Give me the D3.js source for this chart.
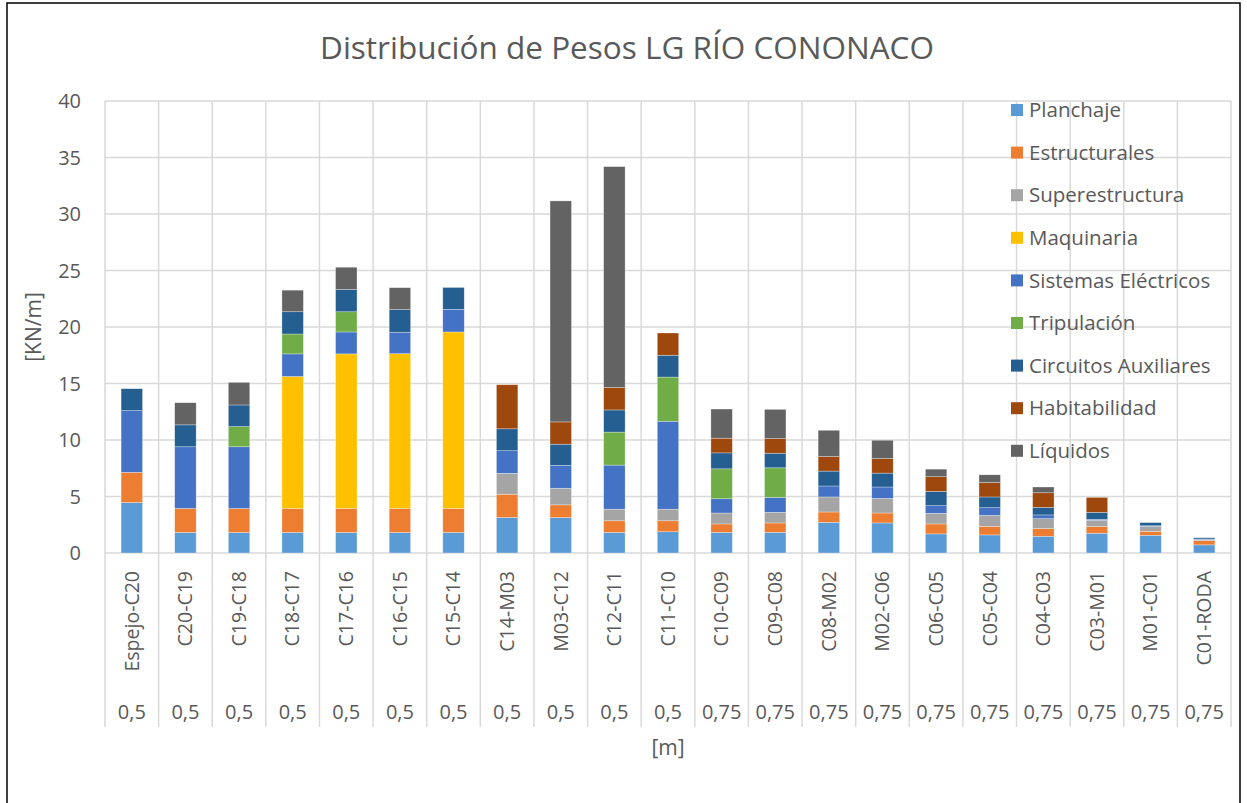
<!DOCTYPE html>
<html lang="es">
<head>
    <meta charset="UTF-8">
    <title>Distribución de Pesos</title>
    <script src="https://cdn.jsdelivr.net/npm/d3@7"></script>
    <style>
        body {
            margin: 0;
            background-color: #fff;
            font-family: 'Open Sans', sans-serif;
        }
        svg text {
            fill: #595959;
        }
    </style>
</head>
<body>
    <svg id="chart"></svg>

    <script>
        const categories = ["Espejo-C20", "C20-C19", "C19-C18", "C18-C17", "C17-C16", "C16-C15", "C15-C14",
            "C14-M03", "M03-C12", "C12-C11", "C11-C10", "C10-C09", "C09-C08", "C08-M02", "M02-C06",
            "C06-C05", "C05-C04", "C04-C03", "C03-M01", "M01-C01", "C01-RODA"];
        const lengths = ["0,5", "0,5", "0,5", "0,5", "0,5", "0,5", "0,5", "0,5", "0,5", "0,5", "0,5",
            "0,75", "0,75", "0,75", "0,75", "0,75", "0,75", "0,75", "0,75", "0,75", "0,75"];

        const planchaje       = [4.47, 1.82, 1.82, 1.82, 1.82, 1.82, 1.82, 3.14, 3.14, 1.82, 1.88, 1.83, 1.83, 2.72, 2.66, 1.69, 1.60, 1.48, 1.75, 1.57, 0.72];
        const estructurales   = [2.67, 2.12, 2.12, 2.12, 2.12, 2.12, 2.12, 2.06, 1.12, 1.03, 0.97, 0.74, 0.83, 0.91, 0.88, 0.88, 0.76, 0.68, 0.59, 0.35, 0.38];
        const superestructura = [0, 0, 0, 0, 0, 0, 0, 1.85, 1.47, 1.03, 1.03, 0.97, 0.94, 1.33, 1.29, 0.94, 0.97, 0.88, 0.55, 0.44, 0.09];
        const maquinaria      = [0, 0, 0, 11.68, 13.68, 13.70, 15.62, 0, 0, 0, 0, 0, 0, 0, 0, 0, 0, 0, 0, 0, 0];
        const sistemas        = [5.46, 5.46, 5.46, 2.00, 1.94, 1.90, 2.00, 2.00, 2.02, 3.90, 7.78, 1.26, 1.32, 0.97, 1.01, 0.68, 0.68, 0.33, 0.09, 0.05, 0.05];
        const tripulacion     = [0, 0, 1.79, 1.76, 1.79, 0, 0, 0, 0, 2.92, 3.91, 2.65, 2.62, 0, 0, 0, 0, 0, 0, 0, 0];
        const circuitos       = [1.94, 1.94, 1.91, 1.97, 1.97, 2.00, 1.94, 1.94, 1.88, 1.96, 1.93, 1.41, 1.29, 1.32, 1.23, 1.26, 0.95, 0.67, 0.62, 0.28, 0.11];
        const habitabilidad   = [0, 0, 0, 0, 0, 0, 0, 3.90, 1.97, 1.99, 1.97, 1.30, 1.29, 1.29, 1.29, 1.30, 1.28, 1.29, 1.32, 0, 0];
        const liquidos        = [0, 1.96, 2.00, 1.91, 1.97, 1.94, 0, 0, 19.56, 19.54, 0, 2.58, 2.59, 2.32, 1.62, 0.67, 0.68, 0.51, 0, 0, 0];

        const seriesNames = ["Planchaje", "Estructurales", "Superestructura", "Maquinaria", "Sistemas Eléctricos",
            "Tripulación", "Circuitos Auxiliares", "Habitabilidad", "Líquidos"];
        const seriesValues = [planchaje, estructurales, superestructura, maquinaria, sistemas,
            tripulacion, circuitos, habitabilidad, liquidos];
        const colors = ["#5B9BD5", "#ED7D31", "#A5A5A5", "#FFC000", "#4472C4", "#70AD47", "#255E91", "#9E480E", "#636363"];
        const yTicks = [0, 5, 10, 15, 20, 25, 30, 35, 40];

        const width = 1247, height = 803;
        const plot = { left: 105, right: 1231, top: 101, bottom: 553 };
        const axisBottom = 727;

        const svg = d3.select("#chart")
            .attr("width", width)
            .attr("height", height);

        // build rows for d3.stack
        const rows = categories.map((c, i) => {
            const r = { cat: c };
            seriesNames.forEach((s, j) => r[s] = seriesValues[j][i]);
            return r;
        });
        const stacked = d3.stack().keys(seriesNames)(rows);

        const x = d3.scaleBand()
            .domain(categories)
            .range([plot.left, plot.right])
            .padding(0);

        const y = d3.scaleLinear()
            .domain([0, 40])
            .range([plot.bottom, plot.top]);

        const color = d3.scaleOrdinal().domain(seriesNames).range(colors);

        // outer border
        svg.append("rect")
            .attr("x", 7).attr("y", 3)
            .attr("width", 1233).attr("height", 820)
            .attr("fill", "none")
            .attr("stroke", "#000")
            .attr("stroke-width", 1.5);

        // horizontal gridlines
        svg.append("g")
            .selectAll("line")
            .data(yTicks)
            .enter().append("line")
            .attr("x1", plot.left).attr("x2", plot.right)
            .attr("y1", d => y(d)).attr("y2", d => y(d))
            .attr("stroke", "#d9d9d9")
            .attr("stroke-width", 1.5);

        // vertical gridlines / category separators (run down through the label area)
        const seps = categories.map(c => x(c)).concat([plot.right]);
        svg.append("g")
            .selectAll("line")
            .data(seps)
            .enter().append("line")
            .attr("x1", d => d).attr("x2", d => d)
            .attr("y1", plot.top).attr("y2", axisBottom)
            .attr("stroke", "#d9d9d9")
            .attr("stroke-width", 1.5);

        // bars
        const barW = x.bandwidth() * 0.4;
        svg.append("g")
            .selectAll("g")
            .data(stacked)
            .enter().append("g")
            .attr("fill", d => color(d.key))
            .selectAll("rect")
            .data(d => d.filter(p => p[1] - p[0] > 0))
            .enter().append("rect")
            .attr("x", d => x(d.data.cat) + (x.bandwidth() - barW) / 2)
            .attr("y", d => y(d[1]))
            .attr("width", barW)
            .attr("height", d => y(d[0]) - y(d[1]))
            .attr("stroke", "#fff")
            .attr("stroke-opacity", 0.5)
            .attr("stroke-width", 0.6);

        // y tick labels
        svg.append("g")
            .selectAll("text")
            .data(yTicks)
            .enter().append("text")
            .attr("x", 81)
            .attr("y", d => y(d))
            .attr("dy", "0.35em")
            .attr("text-anchor", "end")
            .style("font-size", "20px")
            .text(d => d);

        // category labels (rotated)
        svg.append("g")
            .selectAll("text")
            .data(categories)
            .enter().append("text")
            .attr("transform", d => `translate(${x(d) + x.bandwidth() / 2},571) rotate(-90)`)
            .attr("text-anchor", "end")
            .attr("dy", "0.35em")
            .style("font-size", "19.5px")
            .text(d => d);

        // second level: lengths
        svg.append("g")
            .selectAll("text")
            .data(categories)
            .enter().append("text")
            .attr("x", d => x(d) + x.bandwidth() / 2)
            .attr("y", 712)
            .attr("dy", "0.35em")
            .attr("text-anchor", "middle")
            .style("font-size", "20px")
            .text((d, i) => lengths[i]);

        // axis titles
        svg.append("text")
            .attr("x", (plot.left + plot.right) / 2)
            .attr("y", 748)
            .attr("dy", "0.35em")
            .attr("text-anchor", "middle")
            .style("font-size", "21px")
            .text("[m]");

        svg.append("text")
            .attr("transform", `translate(34,${(plot.top + plot.bottom) / 2}) rotate(-90)`)
            .attr("dy", "0.35em")
            .attr("text-anchor", "middle")
            .style("font-size", "21px")
            .text("[KN/m]");

        // title
        svg.append("text")
            .attr("x", 627)
            .attr("y", 59)
            .attr("text-anchor", "middle")
            .style("font-size", "31.5px")
            .text("Distribución de Pesos LG RÍO CONONACO");

        // legend
        const legend = svg.append("g")
            .selectAll("g")
            .data(seriesNames)
            .enter().append("g")
            .attr("transform", (d, i) => `translate(1011,${110 + i * 42.6})`);

        legend.append("rect")
            .attr("x", 0).attr("y", -6)
            .attr("width", 12).attr("height", 12)
            .attr("fill", d => color(d));

        legend.append("text")
            .attr("x", 18)
            .attr("dy", "0.35em")
            .style("font-size", "20.5px")
            .text(d => d);
    </script>
</body>
</html>
